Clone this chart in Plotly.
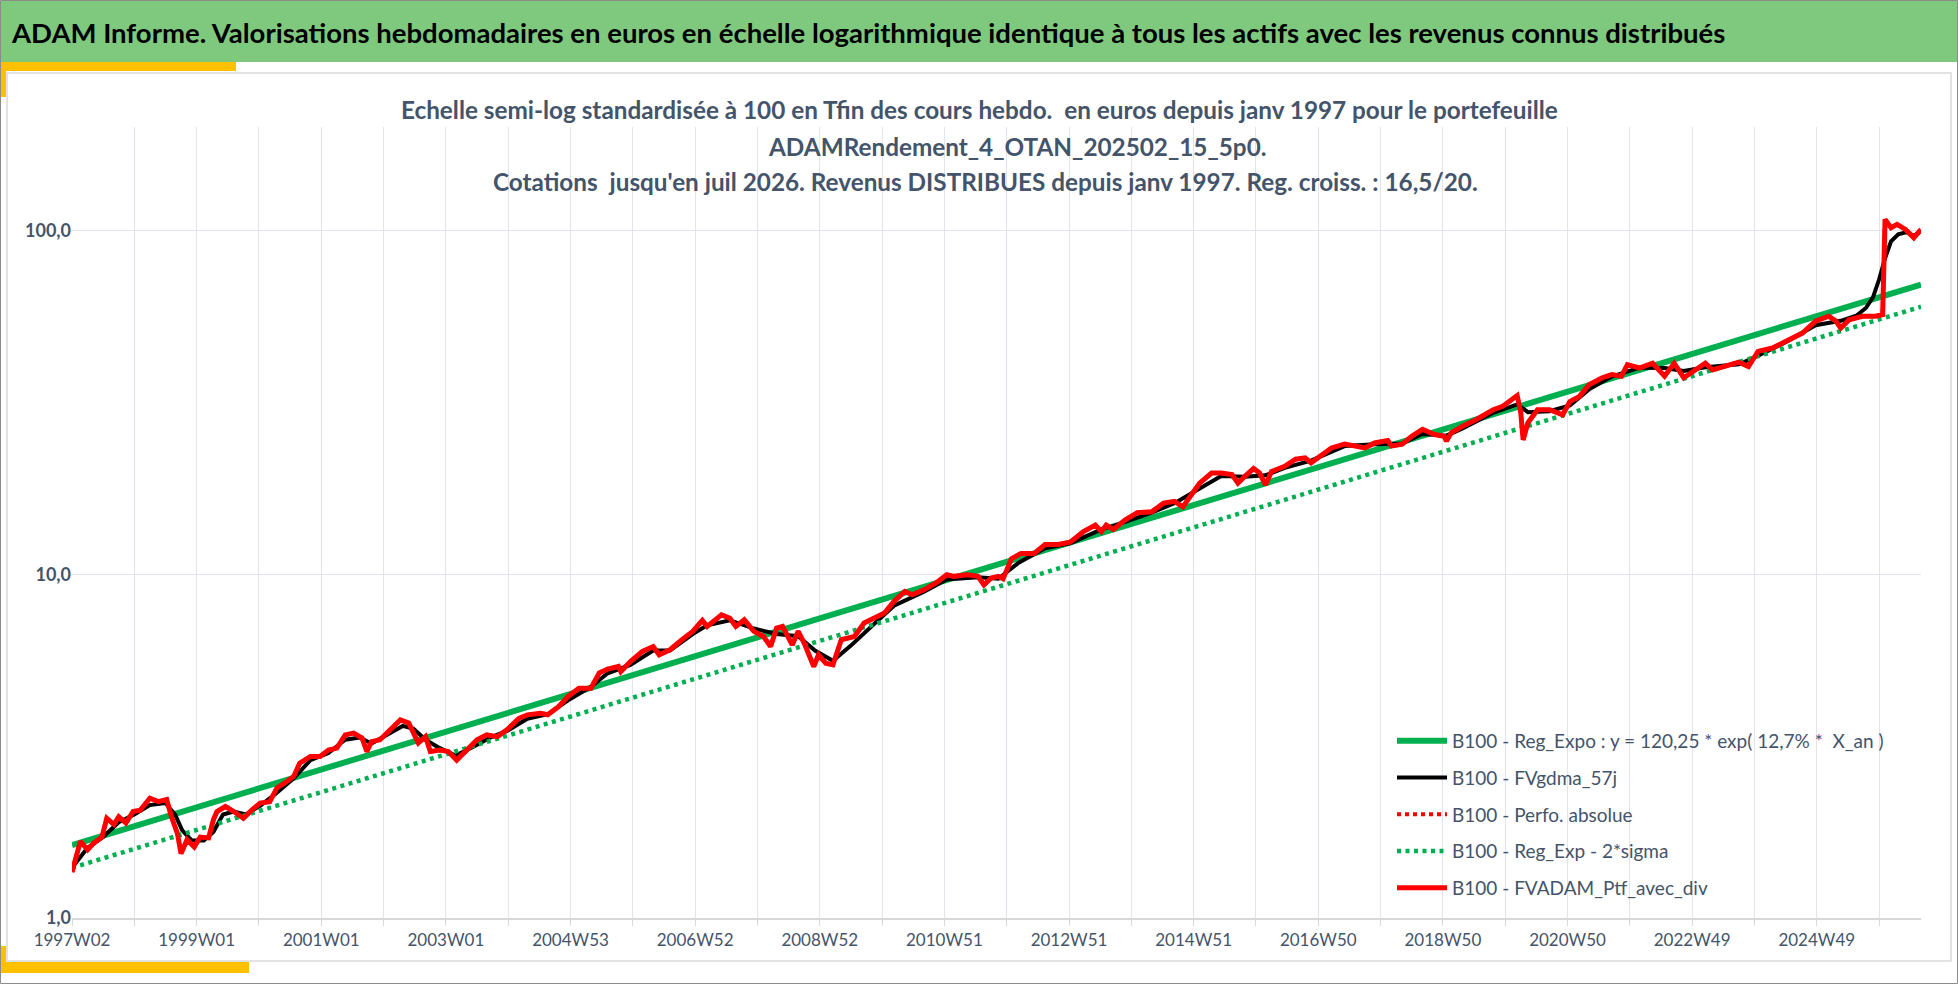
import plotly.graph_objects as go

# ---- data (x = week index since 1997W02, Excel category number) ----
ptf_semaines = [0, 7, 13, 18, 25, 29, 35, 39, 45, 51, 57, 65, 72, 79, 83, 88, 91, 96, 102, 107,
                114, 118, 121, 128, 135, 143, 150, 157, 165, 171, 179, 185, 190, 199, 207, 214, 221, 228, 235, 242,
                246, 250, 257, 264, 274, 281, 285, 289, 295, 299, 307, 314, 321, 330, 338, 346, 355, 363, 373, 380,
                391, 397, 406, 414, 423, 433, 440, 447, 456, 458, 466, 476, 485, 490, 499, 509, 518, 526, 530, 542,
                549, 554, 561, 569, 577, 583, 588, 593, 601, 606, 611, 619, 623, 629, 635, 642, 653, 661, 670, 678,
                686, 695, 701, 711, 721, 730, 736, 747, 756, 761, 767, 773, 777, 784, 792, 803, 812, 823, 833, 844,
                854, 859, 863, 869, 879, 889, 901, 911, 920, 927, 934, 941, 951, 959, 968, 973, 979, 986, 991, 996,
                1001, 1012, 1021, 1029, 1034, 1042, 1051, 1062, 1073, 1079, 1087, 1098, 1101, 1110, 1118, 1127, 1137, 1145, 1147, 1151,
                1160, 1172, 1186, 1194, 1206, 1209, 1211, 1215, 1223, 1233, 1244, 1250, 1258, 1266, 1277, 1285, 1293, 1298, 1308, 1319,
                1329, 1337, 1345, 1354, 1363, 1369, 1380, 1391, 1399, 1407, 1419, 1432, 1444, 1455, 1466, 1472, 1476, 1483, 1494, 1505,
                1511, 1513, 1518, 1523, 1530, 1537, 1543]
ptf_avec_div = [1.36, 1.67, 1.58, 1.65, 1.72, 1.95, 1.87, 1.97, 1.89, 2.04, 2.06, 2.23, 2.18, 2.21, 1.97, 1.76, 1.54, 1.69, 1.61, 1.72,
                1.71, 1.93, 2.04, 2.11, 2.04, 1.95, 2.06, 2.16, 2.18, 2.39, 2.49, 2.58, 2.82, 2.95, 2.95, 3.08, 3.12, 3.41, 3.45, 3.34,
                3.05, 3.26, 3.30, 3.49, 3.77, 3.69, 3.45, 3.23, 3.37, 3.05, 3.08, 3.05, 2.88, 3.08, 3.30, 3.41, 3.37, 3.53, 3.81, 3.90,
                3.94, 3.90, 4.12, 4.41, 4.66, 4.66, 5.16, 5.30, 5.39, 5.21, 5.57, 5.96, 6.16, 5.83, 6.03, 6.45, 6.82, 7.34, 7.05, 7.62,
                7.45, 7.05, 7.37, 6.82, 6.59, 6.16, 6.97, 7.05, 6.23, 6.82, 6.31, 5.39, 5.83, 5.51, 5.45, 6.45, 6.59, 7.21, 7.45, 7.71,
                8.34, 8.91, 8.71, 9.01, 9.43, 9.97, 9.86, 9.97, 9.86, 9.31, 9.75, 9.86, 9.70, 11.1, 11.5, 11.5, 12.2, 12.2, 12.4, 13.3,
                13.9, 13.3, 13.9, 13.5, 14.4, 15.1, 15.2, 16.1, 16.3, 15.7, 17.0, 18.4, 19.7, 19.7, 19.5, 18.4, 19.3, 20.3, 19.7, 18.2,
                19.9, 20.6, 21.6, 21.8, 21.1, 22.1, 23.3, 23.9, 23.6, 23.3, 24.1, 24.5, 23.6, 23.9, 25.2, 26.4, 25.5, 25.2, 24.4, 25.8,
                26.9, 28.2, 30.1, 30.8, 33.1, 29.5, 24.6, 27.6, 30.1, 30.1, 29.1, 31.8, 32.9, 35.6, 37.3, 38.1, 37.7, 40.7, 39.8, 41.1,
                37.7, 41.1, 37.3, 39.3, 41.1, 39.3, 40.2, 41.4, 40.2, 44.5, 45.5, 48.1, 50.3, 54.5, 56.3, 54.5, 52.0, 55.0, 56.3, 56.3,
                56.9, 107.7, 101.9, 104.2, 100.7, 95.2, 100.7]

gdma_semaines = [0, 13, 26, 39, 52, 65, 78, 86, 92, 100, 110, 118, 126, 135, 145, 157, 170, 185, 199, 214,
                 228, 240, 250, 262, 276, 285, 295, 307, 320, 335, 350, 363, 380, 397, 414, 433, 447, 466, 485, 499,
                 518, 530, 549, 569, 588, 606, 620, 635, 650, 670, 686, 711, 730, 756, 773, 790, 812, 833, 859, 879,
                 901, 920, 941, 959, 979, 996, 1012, 1034, 1062, 1087, 1110, 1127, 1147, 1160, 1186, 1206, 1215, 1233, 1250, 1266,
                 1285, 1308, 1329, 1345, 1363, 1391, 1407, 1432, 1455, 1476, 1489, 1497, 1503, 1508, 1513, 1518, 1524, 1531, 1537, 1543]
fvgdma_57j = [1.40, 1.60, 1.72, 1.90, 2.00, 2.13, 2.16, 2.00, 1.80, 1.68, 1.68, 1.78, 2.00, 2.04, 2.00, 2.12, 2.30, 2.55, 2.88, 3.02,
              3.30, 3.35, 3.22, 3.40, 3.62, 3.55, 3.30, 3.12, 2.97, 3.15, 3.36, 3.50, 3.80, 3.92, 4.30, 4.70, 5.15, 5.45, 6.00, 6.00,
              6.70, 7.10, 7.35, 6.95, 6.70, 6.60, 6.00, 5.60, 6.20, 7.20, 8.10, 8.90, 9.65, 9.80, 9.70, 10.8, 11.9, 12.3, 13.5, 14.2,
              15.1, 16.1, 17.8, 19.3, 19.2, 19.4, 20.4, 21.4, 23.6, 23.9, 24.0, 25.6, 25.3, 26.5, 29.5, 31.2, 29.6, 29.8, 31.0, 34.5,
              37.6, 39.9, 39.8, 39.0, 40.0, 40.8, 43.2, 47.7, 53.0, 54.6, 56.5, 59.5, 64.0, 72.0, 83.0, 93.0, 97.5, 98.9, 96.4, 99.7]

reg_semaines = [0, 1543]
reg_expo = [1.63, 69.6]
reg_moins_2sigma = [1.40, 60.0]

# x axis: Excel category labels every 104 weeks, gridlines every 52 weeks
x_labels = ["1997W02", "1999W01", "2001W01", "2003W01", "2004W53", "2006W52", "2008W52", "2010W51",
            "2012W51", "2014W51", "2016W50", "2018W50", "2020W50", "2022W49", "2024W49"]
y_ticks = [1, 10, 100]
y_labels = ["1,0", "10,0", "100,0"]

noms = ["B100 - Reg_Expo : y = 120,25 * exp( 12,7% *  X_an )",
        "B100 - FVgdma_57j",
        "B100 - Perfo. absolue",
        "B100 - Reg_Exp - 2*sigma",
        "B100 - FVADAM_Ptf_avec_div"]

titre_bandeau = ("ADAM Informe. Valorisations hebdomadaires en euros en échelle logarithmique "
                 "identique à tous les actifs avec les revenus connus distribués")
titre_lignes = ["Echelle semi-log standardisée à 100 en Tfin des cours hebdo.  en euros depuis janv 1997 pour le portefeuille",
                "ADAMRendement_4_OTAN_202502_15_5p0.",
                "Cotations  jusqu'en juil 2026. Revenus DISTRIBUES depuis janv 1997. Reg. croiss. : 16,5/20."]

# ---- page geometry (pixels) ----
W, H = 1958, 984
L, R, T, B = 72, 37, 127, 66
pw, ph = W - L - R, H - T - B


def px(x):
    return (x - L) / pw


def py(y):
    return (H - B - y) / ph


def boite(x0, y0, x1, y1, fill="rgba(0,0,0,0)", line_color=None, line_width=0):
    return dict(type="rect", xref="paper", yref="paper",
                x0=px(x0), x1=px(x1), y0=py(y0), y1=py(y1),
                fillcolor=fill, layer="below",
                line=dict(color=line_color or "rgba(0,0,0,0)", width=line_width))


FONT = "Lato, 'Open Sans', sans-serif"
GREY_TXT = "#44546A"
GRID = "#E1E4EA"

fig = go.Figure()

fig.add_trace(go.Scatter(x=reg_semaines, y=reg_expo, mode="lines", name=noms[0], legendgroup="a",
                         line=dict(color="#00B050", width=6)))
fig.add_trace(go.Scatter(x=gdma_semaines, y=fvgdma_57j, mode="lines", name=noms[1], legendgroup="b",
                         line=dict(color="#000000", width=4)))
fig.add_trace(go.Scatter(x=ptf_semaines, y=ptf_avec_div, mode="lines", name=noms[2], legendgroup="c",
                         line=dict(color="#FF0000", width=4, dash="4px,4px")))
fig.add_trace(go.Scatter(x=reg_semaines, y=reg_moins_2sigma, mode="lines", name=noms[3], legendgroup="d",
                         line=dict(color="#00B050", width=4.5, dash="4px,4.5px")))
fig.add_trace(go.Scatter(x=ptf_semaines, y=ptf_avec_div, mode="lines", name=noms[4], legendgroup="e",
                         line=dict(color="#FF0000", width=5)))

grid_vals = list(range(0, 1544, 52))
grid_text = [x_labels[i // 2] if i % 2 == 0 else "" for i in range(len(grid_vals))]

fig.update_xaxes(range=[0, 1543], tickmode="array", tickvals=grid_vals, ticktext=grid_text,
                 showgrid=True, gridcolor=GRID, gridwidth=1.3, showline=True, linecolor="#D9D9D9", linewidth=1.5,
                 ticks="outside", ticklen=6, tickcolor="#D9D9D9", zeroline=False,
                 tickfont=dict(family=FONT, size=17, color=GREY_TXT))
fig.update_yaxes(type="log", range=[0, 2.30103], tickmode="array", tickvals=y_ticks, ticktext=y_labels,
                 showgrid=True, gridcolor=GRID, gridwidth=1.3, showline=False, zeroline=False,
                 tickfont=dict(family=FONT, size=18, color=GREY_TXT, weight="bold"))

shapes = [
    boite(0.5, 0.5, W - 0.5, H - 0.5, line_color="#8C8C8C", line_width=1),   # outer frame
    boite(1, 1, W - 1, 62, fill="#7FC97E"),                                    # green banner
    boite(7, 73, W - 7, 961, line_color="#D9D9D9", line_width=1.5),           # chart frame
    boite(1, 62, 236, 71, fill="#FFC000"),                                     # yellow corners
    boite(1, 62, 6, 97, fill="#FFC000"),
    boite(1, 962, 249, 973, fill="#FFC000"),
    boite(1, 946, 6, 973, fill="#FFC000"),
]

annotations = [
    dict(text="<b>" + titre_bandeau + "</b>", x=px(9), y=py(32), xref="paper", yref="paper",
         xanchor="left", yanchor="middle", showarrow=False,
         font=dict(family=FONT, size=27.5, color="#000000")),
]
for txt, cx, cy in zip(titre_lignes, [979, 1017, 985], [110, 146, 182]):
    annotations.append(dict(text="<b>" + txt + "</b>", x=px(cx), y=py(cy), xref="paper", yref="paper",
                            xanchor="center", yanchor="middle", showarrow=False,
                            font=dict(family=FONT, size=24.3, color=GREY_TXT)))

fig.update_layout(
    width=W, height=H,
    margin=dict(l=L, r=R, t=T, b=B, autoexpand=False),
    paper_bgcolor="white", plot_bgcolor="rgba(0,0,0,0)",
    shapes=shapes, annotations=annotations,
    showlegend=True,
    legend=dict(x=px(1392), y=py(722), xanchor="left", yanchor="top",
                bgcolor="rgba(0,0,0,0)", traceorder="grouped", tracegroupgap=9,
                itemwidth=50, font=dict(family=FONT, size=19, color=GREY_TXT)),
)

# page body without the browser's default margin, so the figure sits at (0, 0)
fig.write_html("out.html", config={"displayModeBar": False},
               post_script="document.body.style.margin='0';")
